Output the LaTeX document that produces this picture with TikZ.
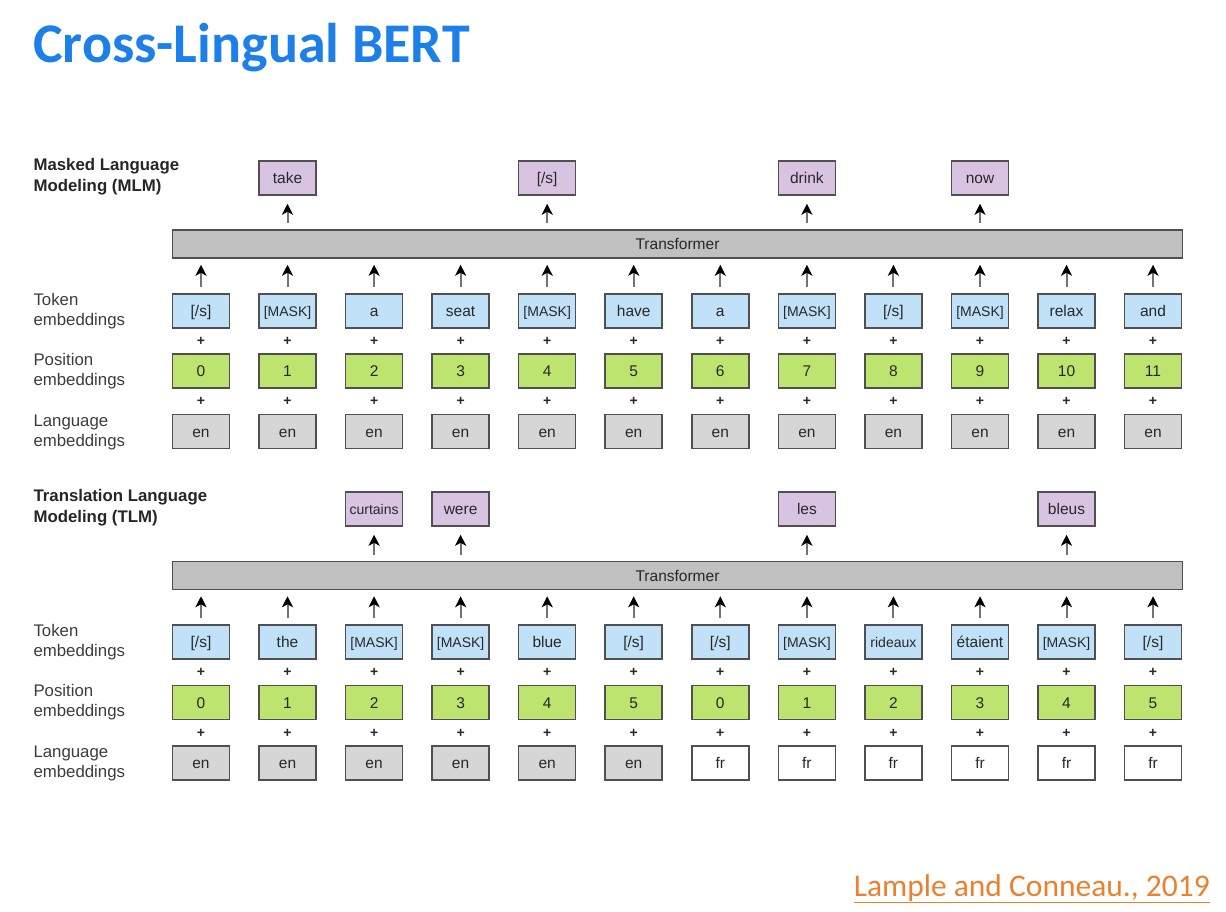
\documentclass[tikz,border=0pt]{standalone}
\usepackage{fontspec}
\setmainfont{Liberation Sans}
\newfontfamily\slidefont{Carlito}
\usetikzlibrary{arrows.meta,positioning}

\definecolor{titleblue}{RGB}{28,128,232}
\definecolor{citeorange}{RGB}{236,128,44}
\definecolor{boxline}{RGB}{80,80,80}
\definecolor{boxtext}{RGB}{40,40,40}
\definecolor{labeltext}{RGB}{60,60,60}
\definecolor{outfill}{RGB}{216,196,226}
\definecolor{tokfill}{RGB}{192,225,247}
\definecolor{posfill}{RGB}{190,228,112}
\definecolor{lanfill}{RGB}{214,214,214}
\definecolor{tffill}{RGB}{192,192,192}

\begin{document}
\begin{tikzpicture}[x=1pt,y=-1pt]
\tikzset{
  box/.style={draw=boxline,line width=1.5pt,minimum width=57pt,minimum height=34pt,inner sep=1pt,text height=11pt,text depth=0pt,text=boxtext,font=\fontsize{15.5}{18}\selectfont},
  tightbox/.style={font=\fontsize{14}{16}\selectfont},
  outbox/.style={box,fill=outfill},
  tokbox/.style={box,fill=tokfill},
  posbox/.style={box,fill=posfill},
  lanbox/.style={box,fill=lanfill},
  frbox/.style={box,fill=white},
  tfbar/.style={draw=boxline,line width=1.5pt,fill=tffill,minimum width=1010pt,minimum height=28pt,inner sep=1pt,text height=11pt,text depth=0pt,text=boxtext,font=\fontsize{15.5}{18}\selectfont},
  plussign/.style={inner sep=0pt,text=boxtext,font=\fontsize{14}{14}\selectfont\bfseries},
  uparrow/.style={-{Stealth[length=11pt,width=11pt,inset=3pt,black]},line width=2pt,draw=black!55,shorten <=6pt,shorten >=6pt},
  rowlabel/.style={anchor=west,align=left,text=labeltext,font=\fontsize{16.8}{20}\selectfont},
  tasklabel/.style={anchor=west,align=left,text=black!85,font=\fontsize{16.8}{21}\selectfont\bfseries}
}
\useasboundingbox (0,0) rectangle (1226,912);

% title and citation
\node[anchor=base west,inner sep=0pt,text=titleblue,font=\slidefont\fontsize{56}{60}\selectfont\bfseries] (title) at (33,63) {Cross-Lingual BERT};
\node[anchor=base east,inner sep=0pt,text=citeorange,font=\slidefont\fontsize{31.5}{38}\selectfont] (cite) at (1210,896) {\underline{Lample and Conneau., 2019}};

% MLM
\node[tasklabel] (m_task) at (30,177) {Masked Language\\Modeling (MLM)};
\node[rowlabel] (m_toklab) at (30,311) {Token\\embeddings};
\node[rowlabel] (m_poslab) at (30,371) {Position\\embeddings};
\node[rowlabel] (m_lanlab) at (30,432) {Language\\embeddings};

\node[tfbar] (m_tf) at (677.5,244) {Transformer};

\node[outbox] (m_out1) at (287.5,178) {take};
\node[outbox] (m_out4) at (547.2,178) {[/s]};
\node[outbox] (m_out7) at (806.9,178) {drink};
\node[outbox] (m_out9) at (980.0,178) {now};

\node[tokbox] (m_tok0) at (201.0,311) {[/s]};
\node[tokbox,tightbox] (m_tok1) at (287.5,311) {[MASK]};
\node[tokbox] (m_tok2) at (374.1,311) {a};
\node[tokbox] (m_tok3) at (460.6,311) {seat};
\node[tokbox,tightbox] (m_tok4) at (547.2,311) {[MASK]};
\node[tokbox] (m_tok5) at (633.7,311) {have};
\node[tokbox] (m_tok6) at (720.3,311) {a};
\node[tokbox,tightbox] (m_tok7) at (806.9,311) {[MASK]};
\node[tokbox] (m_tok8) at (893.4,311) {[/s]};
\node[tokbox,tightbox] (m_tok9) at (980.0,311) {[MASK]};
\node[tokbox] (m_tok10) at (1066.5,311) {relax};
\node[tokbox] (m_tok11) at (1153.0,311) {and};

\node[posbox] (m_pos0) at (201.0,371) {0};
\node[posbox] (m_pos1) at (287.5,371) {1};
\node[posbox] (m_pos2) at (374.1,371) {2};
\node[posbox] (m_pos3) at (460.6,371) {3};
\node[posbox] (m_pos4) at (547.2,371) {4};
\node[posbox] (m_pos5) at (633.7,371) {5};
\node[posbox] (m_pos6) at (720.3,371) {6};
\node[posbox] (m_pos7) at (806.9,371) {7};
\node[posbox] (m_pos8) at (893.4,371) {8};
\node[posbox] (m_pos9) at (980.0,371) {9};
\node[posbox] (m_pos10) at (1066.5,371) {10};
\node[posbox] (m_pos11) at (1153.0,371) {11};

\node[lanbox] (m_lan0) at (201.0,431.5) {en};
\node[lanbox] (m_lan1) at (287.5,431.5) {en};
\node[lanbox] (m_lan2) at (374.1,431.5) {en};
\node[lanbox] (m_lan3) at (460.6,431.5) {en};
\node[lanbox] (m_lan4) at (547.2,431.5) {en};
\node[lanbox] (m_lan5) at (633.7,431.5) {en};
\node[lanbox] (m_lan6) at (720.3,431.5) {en};
\node[lanbox] (m_lan7) at (806.9,431.5) {en};
\node[lanbox] (m_lan8) at (893.4,431.5) {en};
\node[lanbox] (m_lan9) at (980.0,431.5) {en};
\node[lanbox] (m_lan10) at (1066.5,431.5) {en};
\node[lanbox] (m_lan11) at (1153.0,431.5) {en};

\node[plussign] (m_pa0) at (201.0,341.5) {+};
\node[plussign] (m_pa1) at (287.5,341.5) {+};
\node[plussign] (m_pa2) at (374.1,341.5) {+};
\node[plussign] (m_pa3) at (460.6,341.5) {+};
\node[plussign] (m_pa4) at (547.2,341.5) {+};
\node[plussign] (m_pa5) at (633.7,341.5) {+};
\node[plussign] (m_pa6) at (720.3,341.5) {+};
\node[plussign] (m_pa7) at (806.9,341.5) {+};
\node[plussign] (m_pa8) at (893.4,341.5) {+};
\node[plussign] (m_pa9) at (980.0,341.5) {+};
\node[plussign] (m_pa10) at (1066.5,341.5) {+};
\node[plussign] (m_pa11) at (1153.0,341.5) {+};
\node[plussign] (m_pb0) at (201.0,401.5) {+};
\node[plussign] (m_pb1) at (287.5,401.5) {+};
\node[plussign] (m_pb2) at (374.1,401.5) {+};
\node[plussign] (m_pb3) at (460.6,401.5) {+};
\node[plussign] (m_pb4) at (547.2,401.5) {+};
\node[plussign] (m_pb5) at (633.7,401.5) {+};
\node[plussign] (m_pb6) at (720.3,401.5) {+};
\node[plussign] (m_pb7) at (806.9,401.5) {+};
\node[plussign] (m_pb8) at (893.4,401.5) {+};
\node[plussign] (m_pb9) at (980.0,401.5) {+};
\node[plussign] (m_pb10) at (1066.5,401.5) {+};
\node[plussign] (m_pb11) at (1153.0,401.5) {+};

\draw[uparrow] (m_tok0.north) -- (m_tok0.north |- m_tf.south);
\draw[uparrow] (m_tok1.north) -- (m_tok1.north |- m_tf.south);
\draw[uparrow] (m_tok2.north) -- (m_tok2.north |- m_tf.south);
\draw[uparrow] (m_tok3.north) -- (m_tok3.north |- m_tf.south);
\draw[uparrow] (m_tok4.north) -- (m_tok4.north |- m_tf.south);
\draw[uparrow] (m_tok5.north) -- (m_tok5.north |- m_tf.south);
\draw[uparrow] (m_tok6.north) -- (m_tok6.north |- m_tf.south);
\draw[uparrow] (m_tok7.north) -- (m_tok7.north |- m_tf.south);
\draw[uparrow] (m_tok8.north) -- (m_tok8.north |- m_tf.south);
\draw[uparrow] (m_tok9.north) -- (m_tok9.north |- m_tf.south);
\draw[uparrow] (m_tok10.north) -- (m_tok10.north |- m_tf.south);
\draw[uparrow] (m_tok11.north) -- (m_tok11.north |- m_tf.south);
\draw[uparrow,shorten >=8pt] (m_out1.south |- m_tf.north) -- (m_out1.south);
\draw[uparrow,shorten >=8pt] (m_out4.south |- m_tf.north) -- (m_out4.south);
\draw[uparrow,shorten >=8pt] (m_out7.south |- m_tf.north) -- (m_out7.south);
\draw[uparrow,shorten >=8pt] (m_out9.south |- m_tf.north) -- (m_out9.south);

% TLM
\node[tasklabel] (t_task) at (30,508) {Translation Language\\Modeling (TLM)};
\node[rowlabel] (t_toklab) at (30,642) {Token\\embeddings};
\node[rowlabel] (t_poslab) at (30,702) {Position\\embeddings};
\node[rowlabel] (t_lanlab) at (30,763) {Language\\embeddings};

\node[tfbar] (t_tf) at (677.5,575.5) {Transformer};

\node[outbox,tightbox] (t_out2) at (374.1,509) {curtains};
\node[outbox] (t_out3) at (460.6,509) {were};
\node[outbox] (t_out7) at (806.9,509) {les};
\node[outbox] (t_out10) at (1066.5,509) {bleus};

\node[tokbox] (t_tok0) at (201.0,642) {[/s]};
\node[tokbox] (t_tok1) at (287.5,642) {the};
\node[tokbox,tightbox] (t_tok2) at (374.1,642) {[MASK]};
\node[tokbox,tightbox] (t_tok3) at (460.6,642) {[MASK]};
\node[tokbox] (t_tok4) at (547.2,642) {blue};
\node[tokbox] (t_tok5) at (633.7,642) {[/s]};
\node[tokbox] (t_tok6) at (720.3,642) {[/s]};
\node[tokbox,tightbox] (t_tok7) at (806.9,642) {[MASK]};
\node[tokbox,tightbox] (t_tok8) at (893.4,642) {rideaux};
\node[tokbox] (t_tok9) at (980.0,642) {étaient};
\node[tokbox,tightbox] (t_tok10) at (1066.5,642) {[MASK]};
\node[tokbox] (t_tok11) at (1153.0,642) {[/s]};

\node[posbox] (t_pos0) at (201.0,702.5) {0};
\node[posbox] (t_pos1) at (287.5,702.5) {1};
\node[posbox] (t_pos2) at (374.1,702.5) {2};
\node[posbox] (t_pos3) at (460.6,702.5) {3};
\node[posbox] (t_pos4) at (547.2,702.5) {4};
\node[posbox] (t_pos5) at (633.7,702.5) {5};
\node[posbox] (t_pos6) at (720.3,702.5) {0};
\node[posbox] (t_pos7) at (806.9,702.5) {1};
\node[posbox] (t_pos8) at (893.4,702.5) {2};
\node[posbox] (t_pos9) at (980.0,702.5) {3};
\node[posbox] (t_pos10) at (1066.5,702.5) {4};
\node[posbox] (t_pos11) at (1153.0,702.5) {5};

\node[lanbox] (t_lan0) at (201.0,763) {en};
\node[lanbox] (t_lan1) at (287.5,763) {en};
\node[lanbox] (t_lan2) at (374.1,763) {en};
\node[lanbox] (t_lan3) at (460.6,763) {en};
\node[lanbox] (t_lan4) at (547.2,763) {en};
\node[lanbox] (t_lan5) at (633.7,763) {en};
\node[frbox] (t_lan6) at (720.3,763) {fr};
\node[frbox] (t_lan7) at (806.9,763) {fr};
\node[frbox] (t_lan8) at (893.4,763) {fr};
\node[frbox] (t_lan9) at (980.0,763) {fr};
\node[frbox] (t_lan10) at (1066.5,763) {fr};
\node[frbox] (t_lan11) at (1153.0,763) {fr};

\node[plussign] (t_pa0) at (201.0,672.5) {+};
\node[plussign] (t_pa1) at (287.5,672.5) {+};
\node[plussign] (t_pa2) at (374.1,672.5) {+};
\node[plussign] (t_pa3) at (460.6,672.5) {+};
\node[plussign] (t_pa4) at (547.2,672.5) {+};
\node[plussign] (t_pa5) at (633.7,672.5) {+};
\node[plussign] (t_pa6) at (720.3,672.5) {+};
\node[plussign] (t_pa7) at (806.9,672.5) {+};
\node[plussign] (t_pa8) at (893.4,672.5) {+};
\node[plussign] (t_pa9) at (980.0,672.5) {+};
\node[plussign] (t_pa10) at (1066.5,672.5) {+};
\node[plussign] (t_pa11) at (1153.0,672.5) {+};
\node[plussign] (t_pb0) at (201.0,733) {+};
\node[plussign] (t_pb1) at (287.5,733) {+};
\node[plussign] (t_pb2) at (374.1,733) {+};
\node[plussign] (t_pb3) at (460.6,733) {+};
\node[plussign] (t_pb4) at (547.2,733) {+};
\node[plussign] (t_pb5) at (633.7,733) {+};
\node[plussign] (t_pb6) at (720.3,733) {+};
\node[plussign] (t_pb7) at (806.9,733) {+};
\node[plussign] (t_pb8) at (893.4,733) {+};
\node[plussign] (t_pb9) at (980.0,733) {+};
\node[plussign] (t_pb10) at (1066.5,733) {+};
\node[plussign] (t_pb11) at (1153.0,733) {+};

\draw[uparrow] (t_tok0.north) -- (t_tok0.north |- t_tf.south);
\draw[uparrow] (t_tok1.north) -- (t_tok1.north |- t_tf.south);
\draw[uparrow] (t_tok2.north) -- (t_tok2.north |- t_tf.south);
\draw[uparrow] (t_tok3.north) -- (t_tok3.north |- t_tf.south);
\draw[uparrow] (t_tok4.north) -- (t_tok4.north |- t_tf.south);
\draw[uparrow] (t_tok5.north) -- (t_tok5.north |- t_tf.south);
\draw[uparrow] (t_tok6.north) -- (t_tok6.north |- t_tf.south);
\draw[uparrow] (t_tok7.north) -- (t_tok7.north |- t_tf.south);
\draw[uparrow] (t_tok8.north) -- (t_tok8.north |- t_tf.south);
\draw[uparrow] (t_tok9.north) -- (t_tok9.north |- t_tf.south);
\draw[uparrow] (t_tok10.north) -- (t_tok10.north |- t_tf.south);
\draw[uparrow] (t_tok11.north) -- (t_tok11.north |- t_tf.south);
\draw[uparrow,shorten >=8pt] (t_out2.south |- t_tf.north) -- (t_out2.south);
\draw[uparrow,shorten >=8pt] (t_out3.south |- t_tf.north) -- (t_out3.south);
\draw[uparrow,shorten >=8pt] (t_out7.south |- t_tf.north) -- (t_out7.south);
\draw[uparrow,shorten >=8pt] (t_out10.south |- t_tf.north) -- (t_out10.south);
\end{tikzpicture}
\end{document}
